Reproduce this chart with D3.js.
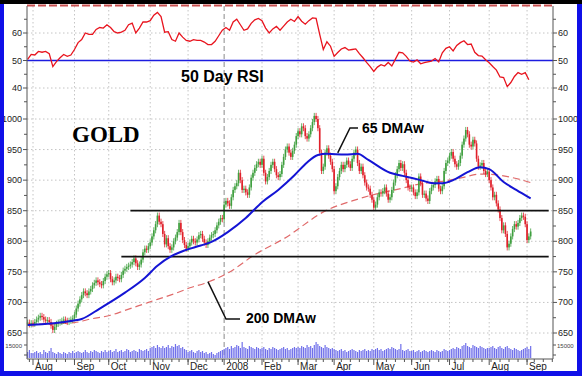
<!DOCTYPE html>
<html>
<head>
<meta charset="utf-8">
<script src="https://cdn.jsdelivr.net/npm/d3@7"></script>
<style>
  body { margin: 0; background: #fff; }
  svg { display: block; }
  text { font-family: Arial, "Liberation Sans", sans-serif; }
</style>
</head>
<body>
<svg id="chart" width="582" height="376"></svg>
<script>
// trading calendar
const firstDay = "2007-07-27";
const lastAxisDay = "2008-09-22";
const holidays = ["2007-09-03", "2007-11-22", "2007-12-25", "2008-01-01", "2008-01-21",
  "2008-02-18", "2008-03-21", "2008-05-26", "2008-07-04", "2008-09-01"];
const monthLabels = ["Aug", "Sep", "Oct", "Nov", "Dec", "2008", "Feb", "Mar", "Apr", "May", "Jun", "Jul", "Aug", "Sep"];

// daily closes, one line per month
const closes = [
  667, 664, 666,
  665, 668, 672, 675, 678, 676, 672, 670, 671, 668, 662, 655, 660, 665, 667, 668, 670, 672, 670, 668, 670, 672, 674,
  680, 690, 698, 705, 712, 718, 715, 712, 718, 722, 728, 732, 736, 733, 730, 728, 735, 742, 746,
  748, 738, 733, 736, 742, 740, 738, 745, 752, 755, 758, 760, 762, 766, 772, 764, 758, 762, 770, 782, 788, 786, 792,
  798, 808, 818, 828, 842, 832, 828, 812, 795, 805, 792, 786, 790, 800, 806, 815, 830, 815, 802, 794, 788,
  792, 798, 804, 800, 798, 803, 810, 812, 804, 798, 794, 800, 806, 810, 812, 818, 826, 832, 838, 836,
  860, 866, 862, 858, 872, 884, 890, 895, 912, 900, 884, 886, 880, 876, 888, 904, 912, 920, 926, 930, 925,
  935, 912, 898, 905, 915, 925, 930, 918, 908, 905, 910, 925, 938, 950, 955, 945, 938, 948, 958, 972,
  980, 975, 988, 985, 972, 968, 975, 985, 995, 1005, 1000, 985, 945, 915, 922, 945, 952, 940, 930, 918,
  882, 890, 905, 915, 925, 918, 925, 932, 926, 920, 935, 945, 950, 928, 915, 922, 908, 896, 888, 886, 876, 868,
  855, 860, 872, 880, 878, 882, 888, 878, 868, 872, 884, 896, 908, 918, 928, 920, 926, 912, 900, 888, 886,
  888, 880, 874, 880, 906, 895, 876, 878, 870, 866, 882, 888, 892, 898, 902, 886, 882, 890, 915, 928, 932,
  940, 946, 935, 926, 922, 928, 940, 958, 968, 982, 975, 958, 955, 966, 960, 935, 922, 924, 928, 915, 910, 914,
  900, 888, 872, 876, 862, 852, 838, 818, 826, 812, 790, 796, 808, 820, 828, 824, 830, 838, 842, 840, 828,
  802, 808, 816
];

// daily volume (thousands)
const volumes = [
  60, 80, 50,
  50, 60, 70, 50, 60, 40, 80, 60, 50, 70, 100, 60, 50, 40, 60, 50, 40, 60, 50, 40, 60, 50, 70,
  50, 60, 70, 60, 50, 60, 80, 60, 50, 70, 60, 80, 70, 60, 50, 70, 60, 80, 60,
  70, 80, 60, 70, 90, 60, 70, 80, 60, 70, 90, 80, 60, 70, 80, 70, 60, 90, 80, 70, 80, 90, 70,
  100, 110, 120, 100, 130, 110, 100, 120, 100, 110, 130, 100, 120, 110, 140, 120, 130, 100, 110, 90, 80,
  60, 70, 80, 60, 50, 70, 80, 60, 70, 50, 60, 40, 50, 60, 40, 30, 50, 60, 70, 80,
  90, 100, 110, 90, 120, 100, 110, 130, 120, 100, 160, 110, 100, 90, 120, 110, 100, 90, 110, 100, 90,
  100, 110, 90, 80, 100, 90, 110, 100, 90, 80, 90, 100, 110, 90, 100, 80, 90, 100, 110, 100,
  110, 100, 120, 110, 100, 130, 110, 120, 100, 130, 160, 140, 120, 110, 100, 130, 110, 100, 90, 100,
  90, 80, 70, 80, 90, 70, 80, 60, 70, 80, 90, 80, 70, 60, 80, 70, 80, 90, 70, 80, 70, 90,
  80, 90, 100, 80, 90, 70, 80, 90, 100, 90, 110, 100, 90, 80, 90, 140, 80, 70, 80, 90, 70,
  70, 80, 60, 70, 80, 60, 70, 80, 70, 60, 70, 80, 70, 60, 80, 70, 60, 70, 90, 80, 70,
  80, 90, 100, 90, 110, 100, 90, 120, 130, 150, 120, 110, 100, 130, 120, 110, 100, 120, 110, 100, 90, 100,
  100, 110, 120, 100, 90, 110, 120, 100, 90, 110, 120, 100, 90, 80, 100, 90, 80, 70, 80, 90, 100,
  110, 90, 120
];

// 50-day RSI, read every second trading day from the first day
const rsi = [
  50.4, 52.2, 52, 53.3, 53, 53.3, 52.5, 47.8, 49.6, 51, 52.2, 51.5, 52,
  54, 56.5, 57.6, 60, 59.5, 59.5, 61.3, 62, 61.8, 63,
  62, 60.5, 60, 60.3, 61, 63, 63.6, 60, 61.8, 64, 64,
  64.5, 66.5, 67.5, 66, 60.3, 60.5, 57.6, 57, 60, 58.5, 57.3,
  57, 57.6, 57.3, 57.3, 56.7, 55.8, 55.8, 57, 59, 61,
  62, 61, 64, 65, 63, 61, 61.5, 63.5, 64.8, 65.3,
  64.5, 61.8, 60, 61.5, 62.4, 61, 62.5, 64, 65, 64.2,
  66, 64.3, 63.2, 64.5, 65.5, 65.3, 59.5, 54, 56.8, 55.2,
  51.5, 52.9, 54.2, 54.7, 53.8, 54, 54.2, 52.5, 51, 49.3, 47.8,
  46, 47.6, 48.5, 48, 49.3, 48, 50.5, 53, 52.8, 51.5, 49.8,
  49.4, 50.2, 48.8, 49.2, 49.5, 49.8, 50.7, 49.5, 52.8, 54.4,
  55, 53.5, 55.5, 56.5, 57.2, 55.8, 56, 53, 51.8, 51.6, 50.3,
  49.2, 47.8, 46.5, 44, 43.8, 40.5, 42, 44.2, 45.6, 45, 45.6, 43
];

// moving averages
const ma65 = [
  ["2007-07-27", 663], ["2007-08-31", 670], ["2007-09-10", 673], ["2007-09-24", 690],
  ["2007-10-12", 716], ["2007-10-29", 740], ["2007-11-07", 760], ["2007-11-19", 776],
  ["2007-11-29", 785], ["2007-12-12", 793], ["2007-12-20", 799], ["2008-01-04", 815],
  ["2008-01-18", 838], ["2008-02-01", 864], ["2008-02-14", 884], ["2008-02-28", 908],
  ["2008-03-10", 929], ["2008-03-18", 941], ["2008-03-26", 943], ["2008-04-09", 942],
  ["2008-04-18", 943], ["2008-04-28", 933], ["2008-05-14", 912], ["2008-05-23", 907],
  ["2008-06-09", 900], ["2008-06-18", 895], ["2008-06-25", 895], ["2008-07-03", 900],
  ["2008-07-16", 913], ["2008-07-25", 921], ["2008-08-01", 918], ["2008-08-13", 897],
  ["2008-08-22", 884], ["2008-09-04", 870]
];
const ma200 = [
  ["2007-07-27", 664], ["2007-09-04", 667], ["2007-09-17", 673], ["2007-10-02", 679],
  ["2007-10-12", 687], ["2007-10-30", 699], ["2007-11-07", 705], ["2007-11-26", 717],
  ["2007-12-04", 724], ["2007-12-14", 731], ["2008-01-04", 748], ["2008-01-29", 780],
  ["2008-02-20", 804], ["2008-03-26", 851], ["2008-04-15", 866], ["2008-04-28", 874],
  ["2008-05-23", 887], ["2008-06-09", 894], ["2008-06-25", 898], ["2008-07-11", 904],
  ["2008-07-25", 910], ["2008-08-13", 907], ["2008-09-04", 896]
];

// support / resistance lines
const levelPrices = [850, 775];
const levelStarts = ["2007-10-17", "2007-10-10"];
const levelEnd = "2008-09-18";

const priceTicks = [650, 700, 750, 800, 850, 900, 950, 1000];
const rsiTicks = [40, 50, 60];

// ---------------------------------------------------------------
const svg = d3.select("#chart");
const W = 582, H = 376;
const plotL = 27, plotR = 553, plotT = 6, plotB = 358;

const parse = d3.timeParse("%Y-%m-%d");
const fmt = d3.timeFormat("%Y-%m-%d");
const hol = new Set(holidays);
const days = d3.timeDay.range(parse(firstDay), d3.timeDay.offset(parse(lastAxisDay), 1))
  .filter(d => d.getDay() > 0 && d.getDay() < 6 && !hol.has(fmt(d)));
const dayIndex = new Map(days.map((d, i) => [fmt(d), i]));

const x = d3.scaleLinear().domain([0, days.length - 1]).range([27.6, 552.3]);
const yP = d3.scaleLinear().domain([650, 1000]).range([333, 119]);
const yR = d3.scaleLinear().domain([40, 60]).range([88, 33]);
const yV = d3.scaleLinear().domain([0, 200]).range([plotB, plotB - 20]);

svg.append("rect").attr("width", W).attr("height", H).attr("fill", "#fff");

// month and week starts
const monthStarts = [];
const weekStarts = [];
days.forEach((d, i) => {
  if (i > 0 && d.getMonth() !== days[i - 1].getMonth()) monthStarts.push(i);
  if (i > 0 && d.getDay() < days[i - 1].getDay()) weekStarts.push(i);
});

// grid
const grid = svg.append("g");
monthStarts.forEach(i => {
  const isYear = days[i].getMonth() === 0;
  grid.append("line")
    .attr("x1", x(i)).attr("x2", x(i)).attr("y1", plotT).attr("y2", plotB)
    .attr("stroke", isYear ? "#8a8a8a" : "#c4c4c4")
    .attr("stroke-dasharray", isYear ? "5,3" : "1.5,2.5");
});
priceTicks.forEach(v => {
  grid.append("line").attr("x1", plotL).attr("x2", plotR).attr("y1", yP(v)).attr("y2", yP(v))
    .attr("stroke", "#c4c4c4").attr("stroke-dasharray", "1.5,2.5");
});
rsiTicks.forEach(v => {
  grid.append("line").attr("x1", plotL).attr("x2", plotR).attr("y1", yR(v)).attr("y2", yR(v))
    .attr("stroke", "#c4c4c4").attr("stroke-dasharray", "1.5,2.5");
});

// volume
svg.append("g").selectAll("rect").data(volumes).join("rect")
  .attr("x", (d, i) => x(i) - 0.6).attr("width", 1.2)
  .attr("y", d => yV(d)).attr("height", d => yV(0) - yV(d))
  .attr("fill", "#7070ea");

// 200 DMA
const maLine = d3.line().x(d => x(dayIndex.get(d[0]))).y(d => yP(d[1])).curve(d3.curveMonotoneX);
svg.append("path").attr("d", maLine(ma200)).attr("fill", "none")
  .attr("stroke", "#e06a6a").attr("stroke-width", 1.2).attr("stroke-dasharray", "7,4");

// price bars
const bars = svg.append("g");
const wick = 5;
closes.forEach((c, i) => {
  const o = i > 0 ? closes[i - 1] : c;
  const col = c >= o ? "#3f9f3f" : "#e0202a";
  const hi = Math.max(o, c) + wick, lo = Math.min(o, c) - wick;
  bars.append("line").attr("x1", x(i)).attr("x2", x(i)).attr("y1", yP(hi)).attr("y2", yP(lo))
    .attr("stroke", col).attr("stroke-width", 0.8);
  bars.append("rect").attr("x", x(i) - 0.8).attr("width", 1.6)
    .attr("y", yP(Math.max(o, c))).attr("height", Math.max(1, yP(Math.min(o, c)) - yP(Math.max(o, c))))
    .attr("fill", col);
});

// level lines
levelPrices.forEach((p, k) => {
  svg.append("line").attr("x1", x(dayIndex.get(levelStarts[k]))).attr("x2", x(dayIndex.get(levelEnd)))
    .attr("y1", yP(p)).attr("y2", yP(p)).attr("stroke", "#111").attr("stroke-width", 1.8);
});

// 65 DMA
svg.append("path").attr("d", maLine(ma65)).attr("fill", "none")
  .attr("stroke", "#1414d4").attr("stroke-width", 2);

// RSI
svg.append("line").attr("x1", plotL).attr("x2", plotR).attr("y1", yR(50)).attr("y2", yR(50))
  .attr("stroke", "#1c1ce0").attr("stroke-width", 1.5);
svg.append("path")
  .attr("d", d3.line().x((d, k) => x(k * 2)).y(d => yR(d))(rsi))
  .attr("fill", "none").attr("stroke", "#e8141e").attr("stroke-width", 1.3);
svg.append("line").attr("x1", plotL).attr("x2", plotR).attr("y1", yR(70)).attr("y2", yR(70))
  .attr("stroke", "#c85050").attr("stroke-width", 2).attr("stroke-dasharray", "8,3");

// axes frame
const ax = svg.append("g").attr("stroke", "#555");
ax.append("line").attr("x1", plotL).attr("x2", plotL).attr("y1", plotT).attr("y2", plotB + 1);
ax.append("line").attr("x1", plotR).attr("x2", plotR).attr("y1", plotT).attr("y2", plotB + 1);
ax.append("line").attr("x1", plotL).attr("x2", plotR).attr("y1", plotB + 1).attr("y2", plotB + 1);

monthStarts.forEach(i => {
  ax.append("line").attr("x1", x(i)).attr("x2", x(i)).attr("y1", plotB + 1).attr("y2", plotB + 7);
});
weekStarts.forEach(i => {
  ax.append("line").attr("x1", x(i)).attr("x2", x(i)).attr("y1", plotB + 1).attr("y2", plotB + 4);
});
svg.append("g").selectAll("text").data(monthStarts.slice(0, monthLabels.length)).join("text")
  .attr("x", i => x(i) + 2).attr("y", 370).attr("font-size", 10).attr("fill", "#222")
  .text((i, k) => monthLabels[k]);

// y ticks, both sides
const yTicks = [];
rsiTicks.forEach(v => yTicks.push({y: yR(v), label: v}));
[35, 45, 55, 65].forEach(v => yTicks.push({y: yR(v)}));
priceTicks.forEach(v => yTicks.push({y: yP(v), label: v}));
d3.range(675, 1000, 50).forEach(v => yTicks.push({y: yP(v)}));
yTicks.push({y: 345}, {y: 355});
yTicks.forEach(t => {
  const len = t.label !== undefined ? 4 : 3;
  ax.append("line").attr("x1", plotL - len).attr("x2", plotL).attr("y1", t.y).attr("y2", t.y);
  ax.append("line").attr("x1", plotR).attr("x2", plotR + len).attr("y1", t.y).attr("y2", t.y);
  if (t.label !== undefined) {
    svg.append("text").attr("x", plotL - 5).attr("y", t.y + 3).attr("text-anchor", "end")
      .attr("font-size", 9).attr("fill", "#222").text(t.label);
    svg.append("text").attr("x", plotR + 5).attr("y", t.y + 3)
      .attr("font-size", 9).attr("fill", "#222").text(t.label);
  }
});
svg.append("text").attr("x", plotL - 5).attr("y", 348).attr("text-anchor", "end")
  .attr("font-size", 6).attr("fill", "#444").text("15000");
svg.append("text").attr("x", plotR + 4).attr("y", 348)
  .attr("font-size", 6).attr("fill", "#444").text("15000");

// annotations
svg.append("text").attr("x", 72).attr("y", 142)
  .style("font-family", "'Liberation Serif', 'Times New Roman', serif")
  .attr("font-size", 23).attr("font-weight", "bold").text("GOLD");
svg.append("text").attr("x", 181).attr("y", 82)
  .attr("font-size", 16).attr("font-weight", "bold").text("50 Day RSI");
svg.append("text").attr("x", 362).attr("y", 133)
  .attr("font-size", 14).attr("font-weight", "bold").text("65 DMAw");
svg.append("text").attr("x", 246).attr("y", 323)
  .attr("font-size", 14).attr("font-weight", "bold").text("200 DMAw");

const i65 = dayIndex.get("2008-04-03");
svg.append("path")
  .attr("d", d3.line()([[358, 128], [350, 128], [x(i65), yP(943) - 1]]))
  .attr("fill", "none").attr("stroke", "#111").attr("stroke-width", 1.5);
const i200 = dayIndex.get("2007-12-18");
svg.append("path")
  .attr("d", d3.line()([[x(i200), yP(734)], [226, 319], [240, 319]]))
  .attr("fill", "none").attr("stroke", "#111").attr("stroke-width", 1.5);

// outer border
svg.append("rect").attr("x", 0).attr("y", 0).attr("width", W).attr("height", 4).attr("fill", "#000");
svg.append("rect").attr("x", 0).attr("y", 4).attr("width", 4).attr("height", H - 4).attr("fill", "#1010e8");
svg.append("rect").attr("x", W - 5).attr("y", 4).attr("width", 5).attr("height", H - 4).attr("fill", "#1010e8");
svg.append("rect").attr("x", 0).attr("y", H - 5).attr("width", W).attr("height", 5).attr("fill", "#1010e8");
</script>
</body>
</html>
